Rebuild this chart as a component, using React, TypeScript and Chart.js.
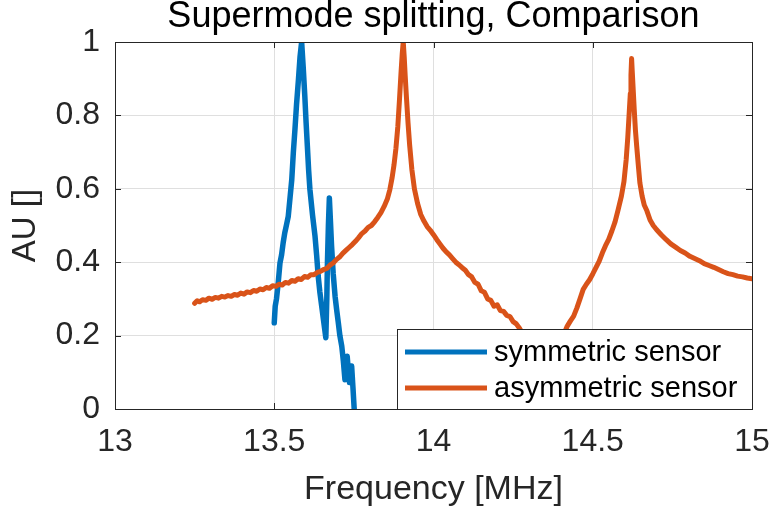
import React, { useEffect, useRef } from "react";
import { Chart, registerables } from "chart.js";

Chart.register(...registerables);

const titleText = "Supermode splitting, Comparison";
const xLabel = "Frequency [MHz]";
const yLabel = "AU []";
const seriesNames = ["symmetric sensor", "asymmetric sensor"];
const seriesColors = ["#0072BD", "#D95319"];

const xTicks = [13, 13.5, 14, 14.5, 15];
const yTicks = [0, 0.2, 0.4, 0.6, 0.8, 1];

const symFreq = [
  13.5, 13.503, 13.507, 13.512, 13.518, 13.523, 13.528, 13.533, 13.538, 13.544,
  13.55, 13.555, 13.56, 13.565, 13.57, 13.576, 13.581, 13.586, 13.591, 13.596,
  13.6, 13.604, 13.608, 13.612, 13.62, 13.628, 13.633, 13.638, 13.643, 13.649,
  13.655, 13.662, 13.665, 13.667, 13.67, 13.673, 13.676, 13.68, 13.685, 13.691,
  13.696, 13.701, 13.706, 13.712, 13.717, 13.722, 13.726, 13.729, 13.733, 13.736,
  13.74, 13.743, 13.747, 13.751,
];
const symVal = [
  0.235, 0.28, 0.3, 0.34, 0.398, 0.42, 0.453, 0.48, 0.5, 0.525,
  0.58, 0.625, 0.7, 0.762, 0.83, 0.898, 0.96, 1.0, 0.93, 0.852,
  0.78, 0.716, 0.65, 0.598, 0.53, 0.471, 0.42, 0.362, 0.32, 0.28,
  0.24, 0.194, 0.3, 0.399, 0.5, 0.575, 0.52, 0.444, 0.37, 0.307,
  0.27, 0.236, 0.2, 0.171, 0.13, 0.08, 0.12, 0.144, 0.1, 0.072,
  0.1, 0.117, 0.06, 0.0,
];

const asymFreq = [
  13.25, 13.258, 13.266, 13.275, 13.285, 13.295, 13.305, 13.315, 13.325, 13.335,
  13.345, 13.355, 13.365, 13.375, 13.385, 13.395, 13.405, 13.415, 13.425, 13.435,
  13.445, 13.455, 13.465, 13.475, 13.485, 13.495, 13.505, 13.515, 13.525, 13.535,
  13.545, 13.555, 13.565, 13.575, 13.585, 13.595, 13.605, 13.615, 13.625, 13.635,
  13.645, 13.655, 13.665, 13.675, 13.685, 13.695, 13.705, 13.715, 13.725, 13.735,
  13.745, 13.755, 13.765, 13.775, 13.785, 13.795, 13.805, 13.815, 13.825, 13.835,
  13.845, 13.855, 13.863, 13.87, 13.876, 13.882, 13.888, 13.893, 13.898, 13.902,
  13.905, 13.908, 13.911, 13.915, 13.92, 13.925, 13.932, 13.94, 13.95, 13.96,
  13.97, 13.98, 13.99, 14.0, 14.01, 14.02, 14.03, 14.04, 14.05, 14.06,
  14.07, 14.08, 14.09, 14.1, 14.11, 14.12, 14.13, 14.14, 14.15, 14.16,
  14.17, 14.18, 14.19, 14.2, 14.21, 14.22, 14.23, 14.24, 14.25, 14.26,
  14.27, 14.28, 14.29, 14.3, 14.315, 14.33, 14.34, 14.35, 14.36, 14.37,
  14.385, 14.4, 14.41, 14.42, 14.43, 14.44, 14.45, 14.46, 14.47, 14.48,
  14.49, 14.5, 14.51, 14.52, 14.53, 14.54, 14.55, 14.56, 14.57, 14.58,
  14.59, 14.598, 14.605, 14.61, 14.614, 14.618, 14.62, 14.622, 14.624, 14.627,
  14.63, 14.634, 14.638, 14.643, 14.648, 14.655, 14.662, 14.67, 14.68, 14.69,
  14.7, 14.715, 14.73, 14.745, 14.76, 14.775, 14.79, 14.805, 14.82, 14.835,
  14.85, 14.865, 14.88, 14.895, 14.91, 14.925, 14.94, 14.955, 14.97, 14.985,
  15.0,
];
const asymVal = [
  0.288, 0.295, 0.292, 0.298, 0.296, 0.302, 0.299, 0.304, 0.302, 0.307,
  0.305, 0.309, 0.307, 0.312, 0.31, 0.316, 0.313, 0.319, 0.317, 0.323,
  0.321, 0.327, 0.325, 0.331, 0.329, 0.336, 0.334, 0.34, 0.338, 0.345,
  0.343, 0.35, 0.348, 0.355, 0.353, 0.361, 0.359, 0.366, 0.366, 0.372,
  0.375, 0.38, 0.383, 0.392, 0.398, 0.407, 0.414, 0.424, 0.432, 0.44,
  0.448, 0.457, 0.467, 0.478, 0.485, 0.495, 0.5, 0.51, 0.522, 0.535,
  0.552, 0.572, 0.598, 0.63, 0.665, 0.71, 0.77, 0.84, 0.916, 0.97,
  1.0, 0.96, 0.91, 0.85, 0.78, 0.72, 0.653, 0.6, 0.56, 0.53,
  0.512, 0.497, 0.487, 0.475, 0.462, 0.45, 0.438, 0.428, 0.42, 0.41,
  0.4, 0.393, 0.385, 0.378, 0.366, 0.36, 0.345, 0.34, 0.322, 0.318,
  0.3, 0.296, 0.28, 0.284, 0.268, 0.266, 0.255, 0.252, 0.238, 0.232,
  0.22, 0.205, 0.185, 0.16, 0.12, 0.075, 0.04, 0.005, 0.05, 0.09,
  0.14, 0.18, 0.205, 0.226, 0.24, 0.253, 0.275, 0.3, 0.326, 0.34,
  0.352, 0.368, 0.385, 0.402, 0.425, 0.445, 0.462, 0.485, 0.51, 0.544,
  0.58, 0.62, 0.68, 0.74, 0.8, 0.86, 0.91, 0.955, 0.92, 0.87,
  0.82, 0.76, 0.716, 0.665, 0.616, 0.58, 0.555, 0.54, 0.515, 0.5,
  0.489, 0.475, 0.462, 0.45, 0.441, 0.432, 0.425, 0.416, 0.41, 0.404,
  0.396, 0.391, 0.386, 0.38, 0.374, 0.369, 0.366, 0.362, 0.36, 0.357,
  0.355,
];

const FONT = "'Liberation Sans', Arial, Helvetica, sans-serif";
const AXIS_COLOR = "#262626";
const GRID_COLOR = "#dfdfdf";

const toPoints = (xs: number[], ys: number[]) => xs.map((x, i) => ({ x, y: ys[i] }));

const framePlugin = {
  id: "matlabFrame",
  afterDraw(chart: any) {
    const { ctx, chartArea } = chart;
    const { left, right, top, bottom } = chartArea;
    const xs = chart.scales.x;
    const ys = chart.scales.y;
    ctx.save();
    ctx.strokeStyle = AXIS_COLOR;
    ctx.lineWidth = 1;
    const tl = 6;
    ctx.beginPath();
    xTicks.forEach((v) => {
      const px = Math.round(xs.getPixelForValue(v)) + 0.5;
      ctx.moveTo(px, bottom);
      ctx.lineTo(px, bottom - tl);
      ctx.moveTo(px, top);
      ctx.lineTo(px, top + tl);
    });
    yTicks.forEach((v) => {
      const py = Math.round(ys.getPixelForValue(v)) + 0.5;
      ctx.moveTo(left, py);
      ctx.lineTo(left + tl, py);
      ctx.moveTo(right, py);
      ctx.lineTo(right - tl, py);
    });
    ctx.stroke();
    ctx.strokeRect(Math.round(left) + 0.5, Math.round(top) + 0.5, Math.round(right - left), Math.round(bottom - top));

    // legend
    const lx0 = 397;
    const ly0 = 329;
    const lx1 = Math.round(right);
    const ly1 = Math.round(bottom);
    ctx.fillStyle = "#ffffff";
    ctx.fillRect(lx0, ly0, lx1 - lx0, ly1 - ly0);
    ctx.strokeStyle = AXIS_COLOR;
    ctx.strokeRect(lx0 + 0.5, ly0 + 0.5, lx1 - lx0, ly1 - ly0);
    const rows = [352, 388];
    chart.data.datasets.forEach((ds: any, i: number) => {
      const y = rows[i];
      ctx.strokeStyle = ds.borderColor;
      ctx.lineWidth = 5;
      ctx.beginPath();
      ctx.moveTo(405, y);
      ctx.lineTo(487, y);
      ctx.stroke();
      ctx.fillStyle = "#000000";
      ctx.font = `29px ${FONT}`;
      ctx.textBaseline = "middle";
      ctx.textAlign = "left";
      ctx.fillText(ds.label, 494, y + 1);
    });

    // title
    ctx.fillStyle = "#000000";
    ctx.font = `36px ${FONT}`;
    ctx.textAlign = "center";
    ctx.textBaseline = "alphabetic";
    ctx.fillText(titleText, (left + right) / 2, 27);
    ctx.restore();
  },
};

export default function App() {
  const ref = useRef<HTMLCanvasElement | null>(null);
  useEffect(() => {
    if (!ref.current) return;
    const chart = new Chart(ref.current, {
      type: "line",
      data: {
        datasets: [
          {
            label: seriesNames[0],
            data: toPoints(symFreq, symVal),
            borderColor: seriesColors[0],
            backgroundColor: seriesColors[0],
            borderWidth: 5.5,
            pointRadius: 0,
            tension: 0,
            order: 1,
            borderJoinStyle: "round",
            borderCapStyle: "round",
          },
          {
            label: seriesNames[1],
            data: toPoints(asymFreq, asymVal),
            borderColor: seriesColors[1],
            backgroundColor: seriesColors[1],
            borderWidth: 5,
            pointRadius: 0,
            tension: 0,
            order: 0,
            borderJoinStyle: "round",
            borderCapStyle: "round",
          },
        ],
      },
      options: {
        responsive: false,
        animation: false,
        parsing: true,
        layout: { padding: { top: 42, right: 19, left: 0, bottom: 0 } },
        plugins: {
          legend: { display: false },
          title: { display: false },
          tooltip: { enabled: false },
        },
        scales: {
          x: {
            type: "linear",
            min: 13,
            max: 15,
            afterFit: (s: any) => {
              s.height = 104;
              s.paddingLeft = 0;
              s.paddingRight = 0;
            },
            afterBuildTicks: (s: any) => {
              s.ticks = xTicks.map((v) => ({ value: v }));
            },
            ticks: {
              color: AXIS_COLOR,
              font: { family: FONT, size: 32 },
              padding: 14,
              maxRotation: 0,
              callback: (v: any) => String(v),
            },
            grid: { color: GRID_COLOR, drawTicks: false, lineWidth: 1 },
            border: { display: false },
            title: {
              display: true,
              text: xLabel,
              color: AXIS_COLOR,
              font: { family: FONT, size: 34 },
              padding: { top: 0, bottom: 3 },
            },
          },
          y: {
            type: "linear",
            min: 0,
            max: 1,
            afterFit: (s: any) => {
              s.width = 115;
              s.paddingTop = 0;
              s.paddingBottom = 0;
            },
            afterBuildTicks: (s: any) => {
              s.ticks = yTicks.map((v) => ({ value: v }));
            },
            ticks: {
              color: AXIS_COLOR,
              font: { family: FONT, size: 32 },
              padding: 15,
              callback: (v: any) => String(v),
            },
            grid: { color: GRID_COLOR, drawTicks: false, lineWidth: 1 },
            border: { display: false },
            title: {
              display: true,
              text: yLabel,
              color: AXIS_COLOR,
              font: { family: FONT, size: 33 },
              padding: { top: 6, bottom: 0 },
            },
          },
        },
      },
      plugins: [framePlugin],
    });
    return () => chart.destroy();
  }, []);
  return (
    <div style={{ position: "absolute", left: 0, top: 0, width: 771, height: 513, background: "#fff" }}>
      <canvas ref={ref} width={771} height={513} style={{ display: "block" }} />
    </div>
  );
}
